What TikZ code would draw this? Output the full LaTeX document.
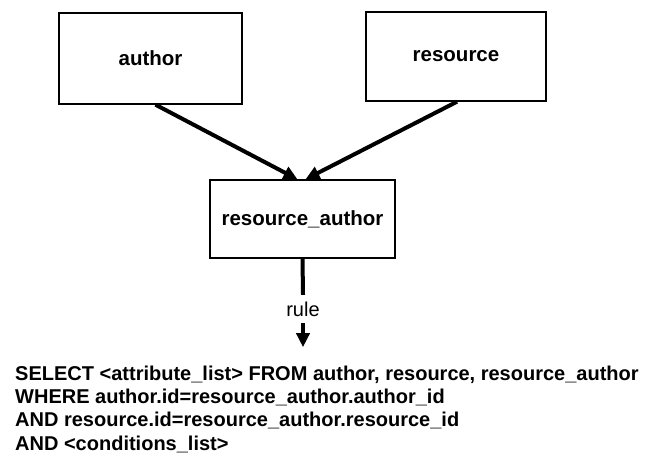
\documentclass[tikz,border=0pt]{standalone}
\usepackage{fontspec}
\setmainfont{Liberation Sans}
\usetikzlibrary{arrows.meta,calc}
\begin{document}
\begin{tikzpicture}[x=1pt,y=-1pt,
  table/.style={draw,line width=1.4pt,inner sep=0pt,font=\bfseries\fontsize{20.5}{24}\selectfont},
  link/.style={line width=4pt},
  linkarrow/.style={line width=4pt,-{Triangle[length=14pt,width=13pt]}},
  sqlline/.style={anchor=base west,inner sep=0pt,font=\bfseries\fontsize{20}{23}\selectfont}]
\useasboundingbox (0,0) rectangle (650,456);

% tables
\node[table,minimum width=183pt,minimum height=91pt] (author) at (150.5,58.5) {author};
\node[table,minimum width=180pt,minimum height=89pt] (resource) at (456,56.5) {resource};
\node[table,minimum width=185pt,minimum height=78pt] (ra) at (302.5,219) {resource\_author};

% joins into the link table
\draw[linkarrow] ($(author.south)+(5,0)$) -- ($(ra.north)+(-5,0)$);
\draw[linkarrow] ($(resource.south)+(1,0)$) -- ($(ra.north)+(3,0)$);

% rule leading to the query
\node[inner sep=0pt,minimum height=28pt,font=\fontsize{20}{22}\selectfont] (rule) at (303,309) {rule};
\draw[link] (ra.south) -- (rule.north);
\draw[linkarrow] (rule.south) -- ++(0,24);

% generated query
\node[sqlline] (sql1) at (15,380) {SELECT <attribute\_list> FROM author, resource, resource\_author};
\node[sqlline] (sql2) at (15,403.3) {WHERE author.id=resource\_author.author\_id};
\node[sqlline] (sql3) at (15,426.7) {AND resource.id=resource\_author.resource\_id};
\node[sqlline] (sql4) at (15,450) {AND <conditions\_list>};
\end{tikzpicture}
\end{document}
